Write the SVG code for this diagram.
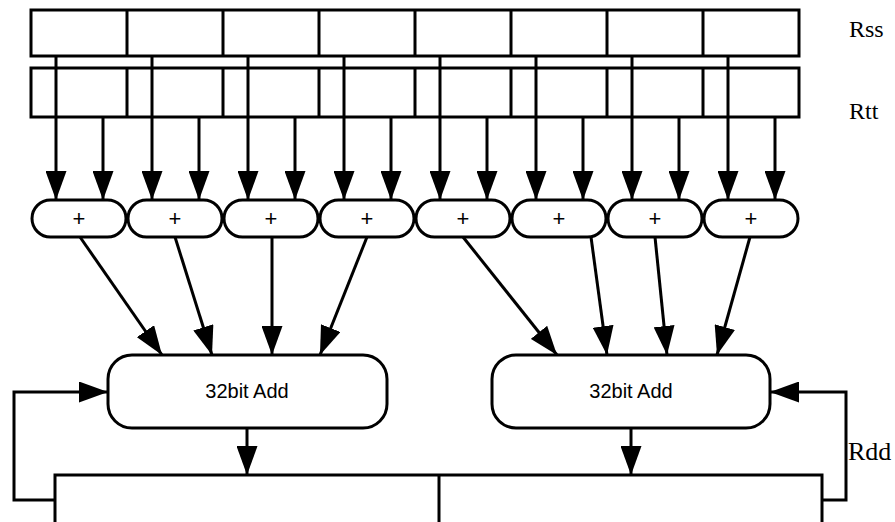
<svg xmlns="http://www.w3.org/2000/svg" width="895" height="522" viewBox="0 0 895 522">
<defs>
<style>
.box{fill:#fff;stroke:#000;stroke-width:3}
.ln{fill:none;stroke:#000;stroke-width:3}
.arr{fill:none;stroke:#000;stroke-width:3;marker-end:url(#ah)}
.lbl{font-family:"Liberation Serif","Times New Roman",serif;font-size:24px;fill:#000}
.t{font-family:"Liberation Sans",Arial,sans-serif;fill:#000;text-anchor:middle}
.p{font-size:22px}
</style>
<marker id="ah" markerUnits="userSpaceOnUse" markerWidth="29" markerHeight="21" refX="29" refY="10.5" orient="auto" viewBox="0 0 29 21">
<path d="M0,0 L29,10.5 L0,21 z" fill="#000"/>
</marker>
</defs>
<rect width="895" height="522" fill="#fff"/>
<g id="rss">
<rect class="box" x="31" y="10" width="768" height="46"/>
<path class="ln" d="M127,10V56M223,10V56M319,10V56M415,10V56M511,10V56M607,10V56M703,10V56"/>
<text class="lbl" x="849" y="37">Rss</text>
</g>
<g id="rtt">
<rect class="box" x="31" y="68" width="768" height="49"/>
<path class="ln" d="M127,68V117M223,68V117M319,68V117M415,68V117M511,68V117M607,68V117M703,68V117"/>
<text class="lbl" x="849" y="119">Rtt</text>
</g>
<g id="adders">
<g id="add1"><rect class="box" x="32" y="200" width="94" height="37" rx="18.5"/><text class="t p" x="79" y="226">+</text></g>
<g id="add2"><rect class="box" x="128" y="200" width="94" height="37" rx="18.5"/><text class="t p" x="175" y="226">+</text></g>
<g id="add3"><rect class="box" x="224" y="200" width="94" height="37" rx="18.5"/><text class="t p" x="271" y="226">+</text></g>
<g id="add4"><rect class="box" x="320" y="200" width="94" height="37" rx="18.5"/><text class="t p" x="367" y="226">+</text></g>
<g id="add5"><rect class="box" x="416" y="200" width="94" height="37" rx="18.5"/><text class="t p" x="463" y="226">+</text></g>
<g id="add6"><rect class="box" x="512" y="200" width="94" height="37" rx="18.5"/><text class="t p" x="559" y="226">+</text></g>
<g id="add7"><rect class="box" x="608" y="200" width="94" height="37" rx="18.5"/><text class="t p" x="655" y="226">+</text></g>
<g id="add8"><rect class="box" x="704" y="200" width="94" height="37" rx="18.5"/><text class="t p" x="751" y="226">+</text></g>
</g>
<g id="sumL"><rect class="box" x="108" y="355" width="279" height="73" rx="24"/><text class="t" x="247" y="398" font-size="20">32bit Add</text></g>
<g id="sumR"><rect class="box" x="492" y="355" width="278" height="73" rx="24"/><text class="t" x="631" y="398" font-size="20">32bit Add</text></g>
<g id="rdd">
<rect class="box" x="55" y="475" width="767" height="60"/>
<path class="ln" d="M439,475V535"/>
<text class="lbl" x="848" y="460" style="font-size:26px">Rdd</text>
</g>
<g id="connectors">
<path class="arr" d="M56,56V200"/><path class="arr" d="M103,117V200"/>
<path class="arr" d="M152,56V200"/><path class="arr" d="M199,117V200"/>
<path class="arr" d="M248,56V200"/><path class="arr" d="M295,117V200"/>
<path class="arr" d="M344,56V200"/><path class="arr" d="M391,117V200"/>
<path class="arr" d="M440,56V200"/><path class="arr" d="M487,117V200"/>
<path class="arr" d="M536,56V200"/><path class="arr" d="M583,117V200"/>
<path class="arr" d="M632,56V200"/><path class="arr" d="M679,117V200"/>
<path class="arr" d="M728,56V200"/><path class="arr" d="M775,117V200"/>
<path class="arr" d="M80,237L162,355"/>
<path class="arr" d="M175,237L212,355"/>
<path class="arr" d="M272,237L272,355"/>
<path class="arr" d="M367,237L320,355"/>
<path class="arr" d="M463,237L557,355"/>
<path class="arr" d="M591,237L607,355"/>
<path class="arr" d="M655,237L667,355"/>
<path class="arr" d="M750,237L717,355"/>
<path class="arr" d="M247,428V475"/>
<path class="arr" d="M631,428V475"/>
<path class="arr" d="M55,500H14V392H108"/>
<path class="arr" d="M822,500H846V392H770"/>
</g>
</svg>
